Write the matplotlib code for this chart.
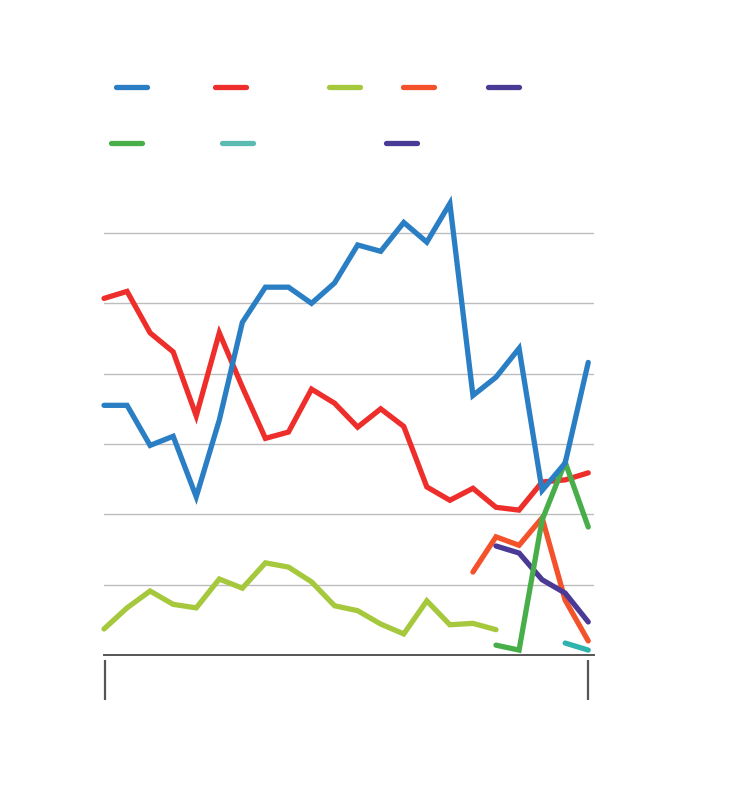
import numpy as np
import matplotlib
matplotlib.use("Agg")
import matplotlib.pyplot as plt
from matplotlib.lines import Line2D

# one point per period, 22 periods
periods = np.arange(22)

blue = [35.5, 35.5, 29.8, 31.1, 22.5, 33.4, 47.3, 52.3, 52.3, 50.0, 52.9,
        58.3, 57.4, 61.5, 58.7, 64.2, 36.9, 39.5, 43.6, 23.4, 27.3, 41.6]
red = [50.7, 51.7, 45.8, 43.1, 34.0, 45.8, 38.1, 30.8, 31.7, 37.8, 35.8,
       32.4, 35.0, 32.5, 23.9, 22.0, 23.7, 21.0, 20.6, 24.6, 24.9, 25.9]
lime = [3.7, 6.7, 9.1, 7.2, 6.7, 10.8, 9.5, 13.1, 12.5, 10.4, 7.0,
        6.3, 4.4, 3.0, 7.7, 4.3, 4.5, 3.6]
orange = [11.8, 16.8, 15.6, 19.5, 7.8, 2.0]      # periods 16-21
purple = [15.5, 14.5, 10.7, 8.8, 4.7]            # periods 17-21
green = [1.4, 0.7, 19.2, 27.4, 18.2]             # periods 17-21
teal = [1.7, 0.7]                                # periods 20-21

series = [
    (periods[:len(lime)], lime, "#A6C83C"),
    (periods[16:], orange, "#F4522B"),
    (periods[17:], purple, "#4A3A96"),
    (periods[20:], teal, "#2EB3AE"),
    (periods, red, "#EE2E2A"),
    (periods[17:], green, "#47AE4A"),
    (periods, blue, "#2A7EC4"),
]

legend_colors = ["#2A7EC4", "#EE2E2A", "#A6C83C", "#F4522B", "#4A3A96",
                 "#47AE4A", "#5BBAB1", "#4A3A96"]
# legend swatch starts (px from left) and rows (px from top)
legend_x = [116, 215, 329, 403, 488, 111, 222, 386]
legend_y = [87, 87, 87, 87, 87, 143, 143, 143]

W, H = 750, 808
fig = plt.figure(figsize=(W / 100, H / 100), dpi=100)
ymax = 66
px_per_unit = 7.033
ax = fig.add_axes([104 / W, 153 / H, 490 / W, ymax * px_per_unit / H])

for x, y, c in series:
    ax.plot(x, y, color=c, lw=3.8, solid_capstyle="round",
            solid_joinstyle="miter", clip_on=False)

ax.set_xlim(0, 21.25)
ax.set_ylim(0, ymax)
ax.set_yticks(np.arange(0, 61, 10))
ax.yaxis.grid(True, color="#BDBDBD", lw=1.0)
ax.set_axisbelow(True)
ax.tick_params(left=False, bottom=False, labelleft=False, labelbottom=False)
for s in ["top", "right", "left"]:
    ax.spines[s].set_visible(False)
ax.spines["bottom"].set_color("#555555")
ax.spines["bottom"].set_linewidth(1.4)

# detached end ticks under the axis
axh = ymax * px_per_unit
ax.vlines([0.05, 21], -5 / axh, -45 / axh, transform=ax.get_xaxis_transform(),
          color="#555555", lw=1.6, clip_on=False)

# legend swatches (labels left out)
for x0, y0, c in zip(legend_x, legend_y, legend_colors):
    fig.add_artist(Line2D([x0 / W, (x0 + 31) / W], [1 - y0 / H, 1 - y0 / H],
                          color=c, lw=3.8, solid_capstyle="round"))

fig.savefig("out.png", dpi=100, facecolor="white")
